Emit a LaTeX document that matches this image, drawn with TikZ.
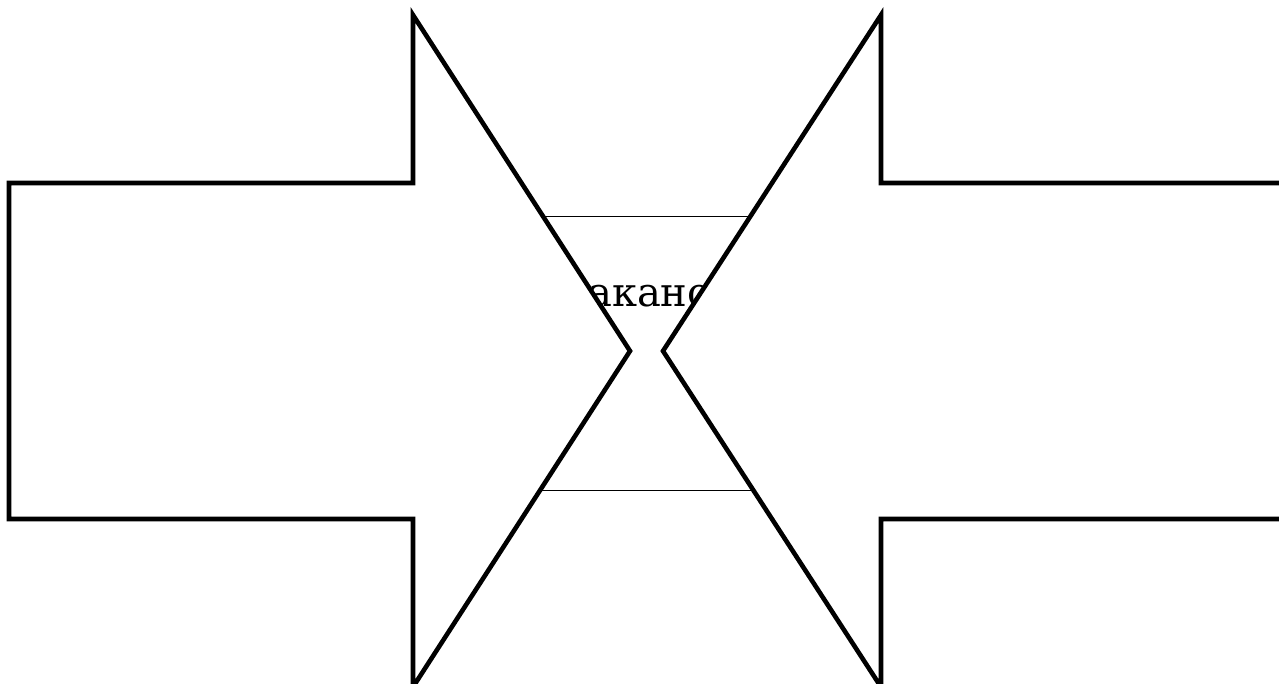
\documentclass[tikz,border=0pt]{standalone}
\usepackage{fontspec}
\setmainfont{DejaVu Serif}
\begin{document}
\begin{tikzpicture}[x=1pt,y=-1pt,
  arrowshape/.style={draw=black,fill=white,line width=4.6pt,line join=miter},
  centerbox/.style={draw=black,line width=0.9pt}]
\useasboundingbox (0,0) rectangle (1279,684);
\clip (0,0) rectangle (1279,684);
\draw[centerbox] (470,216) rectangle (820,490);
\node[anchor=base,font=\fontsize{40}{48}\selectfont,inner sep=0pt] (lbl) at (650,307) {акано};
\draw[arrowshape] (9,183) -- (413,183) -- (413,15) -- (630,351) -- (413,687) -- (413,519) -- (9,519) -- cycle;
\draw[arrowshape] (1310,183) -- (881,183) -- (881,15) -- (663,351) -- (881,687) -- (881,519) -- (1310,519) -- cycle;
\end{tikzpicture}
\end{document}
